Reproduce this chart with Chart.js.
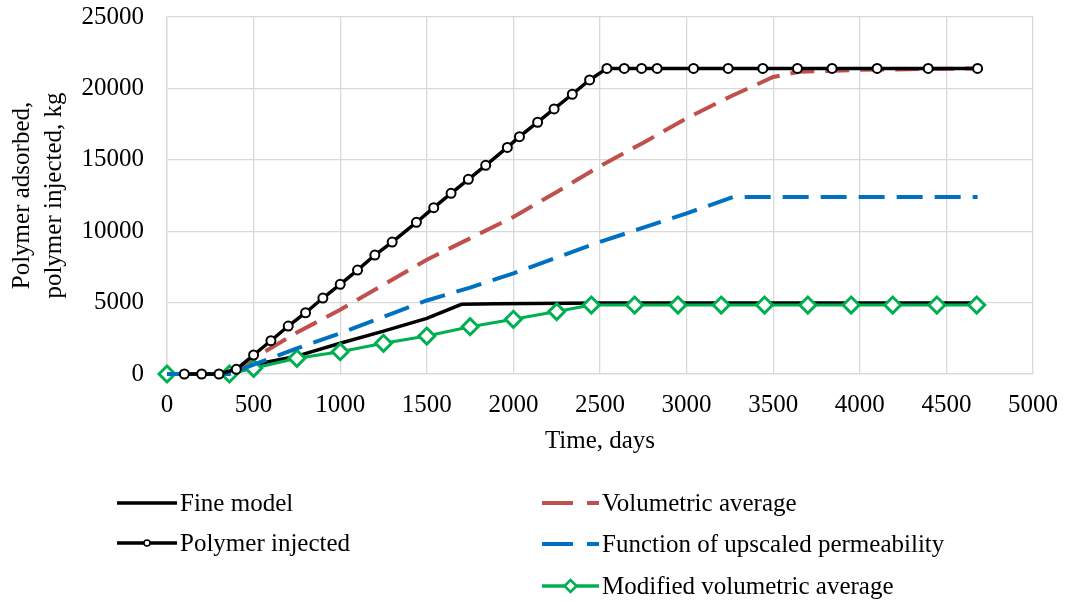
<!DOCTYPE html>
<html>
<head>
<meta charset="utf-8">
<script src="https://cdn.jsdelivr.net/npm/chart.js@4"></script>
<style>
  html, body { margin: 0; padding: 0; background: #fff; }
  #wrap { position: relative; width: 1065px; height: 602px; }
  #legend { position: absolute; left: 0; top: 0; width: 1065px; height: 602px; pointer-events: none;
            font-family: "Liberation Serif", "Times New Roman", serif; font-size: 25px; color: #000; }
  .item { position: absolute; display: flex; align-items: center; height: 30px; white-space: nowrap; }
  .item svg { display: block; margin-right: 3px; }
</style>
</head>
<body>
<div id="wrap">
  <canvas id="chart" width="1065" height="602"></canvas>
  <div id="legend"></div>
</div>
<script>
// x axis ticks / y axis ticks
const xTicks = [0, 500, 1000, 1500, 2000, 2500, 3000, 3500, 4000, 4500, 5000];
const yTicks = [0, 5000, 10000, 15000, 20000, 25000];

// Fine model
const fineDays = [0, 360, 500, 750, 1000, 1250, 1500, 1700, 1900, 2500, 4680];
const fineKg   = [0, 0, 650, 1250, 2150, 3000, 3900, 4880, 4920, 4980, 4980];

// Polymer injected
const injDays = [100, 200, 300, 400, 500, 600, 700, 800, 900, 1000, 1100, 1200, 1300,
                 1440, 1540, 1640, 1740, 1840, 1965, 2035, 2140, 2235, 2340, 2440, 2540,
                 2640, 2740, 2830, 3040, 3240, 3440, 3640, 3840, 4100, 4395, 4680];
const injKg   = [0, 0, 0, 330, 1330, 2330, 3360, 4290, 5320, 6280, 7280, 8330, 9240,
                 10620, 11650, 12650, 13630, 14610, 15870, 16620, 17630, 18560, 19590, 20590, 21400,
                 21400, 21400, 21400, 21400, 21400, 21400, 21400, 21400, 21400, 21400, 21400];

// Volumetric average
const volDays = [0, 360, 500, 750, 1000, 1250, 1500, 1750, 2000, 2250, 2500, 2750, 3000, 3250, 3500, 3650, 4000, 4680];
const volKg   = [0, 0, 1100, 2900, 4500, 6250, 8000, 9500, 11000, 12750, 14550, 16200, 17900, 19420, 20800, 21170, 21300, 21400];

// Function of upscaled permeability
const funDays = [0, 360, 500, 750, 1000, 1250, 1500, 1750, 2000, 2250, 2500, 2750, 3000, 3270, 4680];
const funKg   = [0, 0, 650, 1800, 2850, 4000, 5150, 6050, 7050, 8150, 9250, 10250, 11250, 12400, 12400];

// Modified volumetric average
const modDays = [0, 360, 500, 750, 1000, 1250, 1500, 1750, 2000, 2250, 2450, 2700, 2950, 3200, 3450, 3700, 3950, 4190, 4445, 4675];
const modKg   = [0, 0, 400, 1100, 1560, 2150, 2660, 3310, 3830, 4370, 4830, 4830, 4830, 4830, 4830, 4830, 4830, 4830, 4830, 4830];

const FONT = '"Liberation Serif", "Times New Roman", serif';
const GRID = '#d9d9d9';
const RED = '#c0504d';
const BLUE = '#0070c0';
const GREEN = '#00b050';

function pts(xs, ys) {
    return xs.map((x, i) => ({ x: x, y: ys[i] }));
}

// keep the plot box where the layout padding puts it
function noScalePadding(s) {
    s.paddingTop = 0;
    s.paddingBottom = 0;
    s.paddingLeft = 0;
    s.paddingRight = 0;
}

const datasets = [
    {
        label: 'Fine model', data: pts(fineDays, fineKg), order: 4,
        borderColor: '#000', borderWidth: 3.5, pointRadius: 0
    },
    {
        label: 'Polymer injected', data: pts(injDays, injKg), order: 0,
        borderColor: '#000', borderWidth: 3.5,
        pointRadius: 4.5, pointBorderWidth: 2, pointBackgroundColor: '#fff', pointBorderColor: '#000'
    },
    {
        label: 'Volumetric average', data: pts(volDays, volKg), order: 3,
        borderColor: RED, borderWidth: 4, borderDash: [24, 11], pointRadius: 0
    },
    {
        label: 'Function of upscaled permeability', data: pts(funDays, funKg), order: 1,
        borderColor: BLUE, borderWidth: 4, borderDash: [26, 12], pointRadius: 0
    },
    {
        label: 'Modified volumetric average', data: pts(modDays, modKg), order: 2,
        borderColor: GREEN, borderWidth: 3,
        pointStyle: 'rectRot', pointRadius: 8, pointBorderWidth: 3,
        pointBackgroundColor: '#fff', pointBorderColor: GREEN
    }
];
datasets.forEach(d => { d.clip = false; });

const chart = new Chart(document.getElementById('chart').getContext('2d'), {
    type: 'line',
    data: { datasets: datasets },
    options: {
        responsive: false,
        animation: false,
        events: [],
        layout: { padding: { top: 17, right: 32, bottom: 144, left: 0 } },
        elements: { line: { tension: 0, borderCapStyle: 'butt' } },
        plugins: { legend: { display: false }, tooltip: { enabled: false } },
        scales: {
            x: {
                type: 'linear', min: 0, max: 5000,
                afterBuildTicks: s => { s.ticks = xTicks.map(v => ({ value: v })); },
                afterFit: s => { s.height = 84; noScalePadding(s); },
                grid: { color: GRID, lineWidth: 1.3, drawTicks: false },
                border: { color: GRID, width: 1.3 },
                ticks: {
                    padding: 16, color: '#000', maxRotation: 0,
                    font: { family: FONT, size: 25 },
                    callback: v => String(v)
                },
                title: {
                    display: true, text: 'Time, days', color: '#000',
                    font: { family: FONT, size: 25 }, padding: { top: 0, bottom: 2 }
                }
            },
            y: {
                type: 'linear', min: 0, max: 25000,
                afterBuildTicks: s => { s.ticks = yTicks.map(v => ({ value: v })); },
                afterFit: s => { s.width = 167; noScalePadding(s); },
                grid: { color: GRID, lineWidth: 1.3, drawTicks: false },
                border: { color: GRID, width: 1.3 },
                ticks: {
                    padding: 23, color: '#000',
                    font: { family: FONT, size: 25 },
                    callback: v => String(v)
                },
                title: {
                    display: true, text: ['Polymer adsorbed,', 'polymer injected, kg'], color: '#000',
                    font: { family: FONT, size: 25, lineHeight: 1.3 }, padding: { top: 6, bottom: 0 }
                }
            }
        }
    }
});

// HTML legend in two columns, as in the original figure
const legendSpots = [
    { ds: 0, left: 117, top: 488, w: 60 },
    { ds: 1, left: 117, top: 528, w: 60 },
    { ds: 2, left: 542, top: 488, w: 57 },
    { ds: 3, left: 542, top: 529, w: 57 },
    { ds: 4, left: 542, top: 571, w: 57 }
];

function sample(ds, w) {
    const c = ds.borderColor;
    const dash = ds.borderDash ? ' stroke-dasharray="31 14"' : '';
    let s = '<svg width="' + w + '" height="20"><line x1="0" y1="10" x2="' + w + '" y2="10" stroke="' + c +
        '" stroke-width="' + (ds.borderDash ? 4 : 3.5) + '"' + dash + '/>';
    const m = w / 2;
    if (ds.pointStyle === 'rectRot') {
        s += '<polygon points="' + (m - 6) + ',10 ' + m + ',4 ' + (m + 6) + ',10 ' + m + ',16" fill="#fff" stroke="' + c + '" stroke-width="2.5"/>';
    } else if (ds.pointRadius) {
        s += '<circle cx="' + m + '" cy="10" r="3" fill="#fff" stroke="#000" stroke-width="1.5"/>';
    }
    return s + '</svg>';
}

const legendEl = document.getElementById('legend');
legendSpots.forEach(p => {
    const ds = chart.data.datasets[p.ds];
    const div = document.createElement('div');
    div.className = 'item';
    div.style.left = p.left + 'px';
    div.style.top = p.top + 'px';
    div.innerHTML = sample(ds, p.w) + '<span>' + ds.label + '</span>';
    legendEl.appendChild(div);
});
</script>
</body>
</html>
